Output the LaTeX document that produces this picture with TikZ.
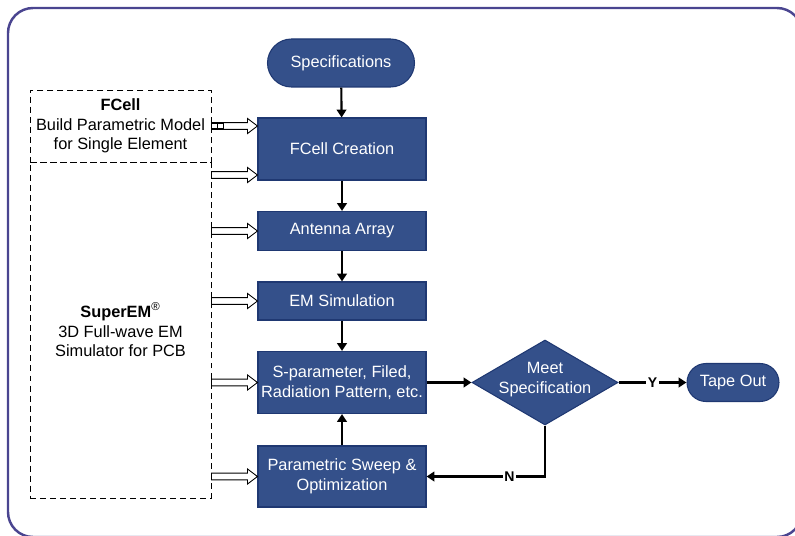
\documentclass[tikz,border=0pt]{standalone}
\usepackage{fontspec}
\setmainfont{Liberation Sans}
\definecolor{flowBlue}{HTML}{34508A}
\definecolor{flowEdge}{HTML}{1F3872}
\definecolor{frameInk}{HTML}{4A4590}
\usetikzlibrary{calc,arrows.meta,shapes.geometric}

\tikzset{
  procfont/.style={font=\fontsize{9.3}{11.2}\selectfont},
  procbox/.style={procfont, draw=flowEdge, fill=flowBlue, text=white, line width=0.6pt,
    minimum width=3.36cm, inner sep=1pt, align=center},
  pill/.style={procbox},
  decide/.style={diamond, draw=flowEdge, fill=flowBlue, line width=0.6pt,
    minimum width=2.92cm, minimum height=1.70cm, inner sep=0pt},
  toolbox/.style={procfont, draw, dash pattern=on 3.4pt off 2.3pt, line width=0.55pt,
    minimum width=3.62cm, align=center, inner sep=0pt},
  flow/.style={line width=1.2pt, -{Triangle[length=4.5pt,width=5.5pt]}},
  yn/.style={font=\fontsize{8}{9}\selectfont\bfseries, fill=white, inner sep=1pt},
  hollow/.style={draw, fill=white, line width=0.5pt,
    to path={let \p1=(\tikztostart), \p2=(\tikztotarget) in
      (\x1,\y1+1.9pt) -- (\x2-5.7pt,\y1+1.9pt) -- (\x2-5.7pt,\y1+4.3pt) -- (\x2,\y1)
      -- (\x2-5.7pt,\y1-4.3pt) -- (\x2-5.7pt,\y1-1.9pt) -- (\x1,\y1-1.9pt) -- cycle}}
}

\begin{document}
\begin{tikzpicture}
  \useasboundingbox (0,0) rectangle (15.9,10.7);
  % outer frame
  \draw[frameInk, line width=1.4pt, rounded corners=0.5cm] (0.16,-0.04) rectangle (16.04,10.54);

  % tool boxes
  \node[toolbox, minimum height=1.44cm] (fcell) at (2.41,8.18)
    {\textbf{FCell}\\Build Parametric Model\\for Single Element};
  \node[toolbox, minimum height=6.72cm] (superem) at (2.41,4.10)
    {\textbf{SuperEM}\textsuperscript{\textregistered}\\3D Full-wave EM\\Simulator for PCB};

  % main flow
  \node[pill, rounded corners=0.48cm, minimum width=2.94cm, minimum height=0.96cm] (spec) at (6.82,9.44) {Specifications};
  \node[procbox, minimum height=1.24cm] (create) at (6.84,7.72) {FCell Creation};
  \node[procbox, minimum height=0.78cm] (array) at (6.84,6.08) {Antenna Array};
  \node[procbox, minimum height=0.76cm] (emsim) at (6.84,4.68) {EM Simulation};
  \node[procbox, minimum height=1.24cm] (result) at (6.84,3.05) {S-parameter, Filed,\\Radiation Pattern, etc.};
  \node[procbox, minimum height=1.22cm] (sweep) at (6.84,1.17) {Parametric Sweep \&\\Optimization};
  \node[decide, label={[procfont, text=white, align=center, yshift=1.5pt]center:Meet\\Specification}] (meet) at (10.9,3.05) {};
  \node[pill, rounded corners=0.38cm, minimum width=1.84cm, minimum height=0.76cm] (tape) at (14.66,3.05) {Tape Out};

  % connectors
  \draw[flow] (spec) -- (create);
  \draw[flow] (create) -- (array);
  \draw[flow] (array) -- (emsim);
  \draw[flow] (emsim) -- (result);
  \draw[flow] (sweep) -- (result);
  \draw[flow] (result) -- (meet);
  \draw[flow] (meet) -- node[yn] {Y} (tape);
  \draw[flow] (meet.south) |- node[yn, pos=0.65] {N} (sweep.east);

  % tool inputs
  \draw[hollow] (fcell.east) to (create.west |- fcell.east);
  \draw[hollow] (superem.east |- 0,7.2) to (create.west |- 0,7.2);
  \draw[hollow] (superem.east |- array.west) to (array.west);
  \draw[hollow] (superem.east |- emsim.west) to (emsim.west);
  \draw[hollow] (superem.east |- result.west) to (result.west);
  \draw[hollow] (superem.east |- sweep.west) to (sweep.west);
  \draw[line width=0.7pt] (4.23,8.12) rectangle (4.47,8.24);
  \draw[line width=0.7pt] (4.35,8.12) -- (4.35,8.24);
\end{tikzpicture}
\end{document}
